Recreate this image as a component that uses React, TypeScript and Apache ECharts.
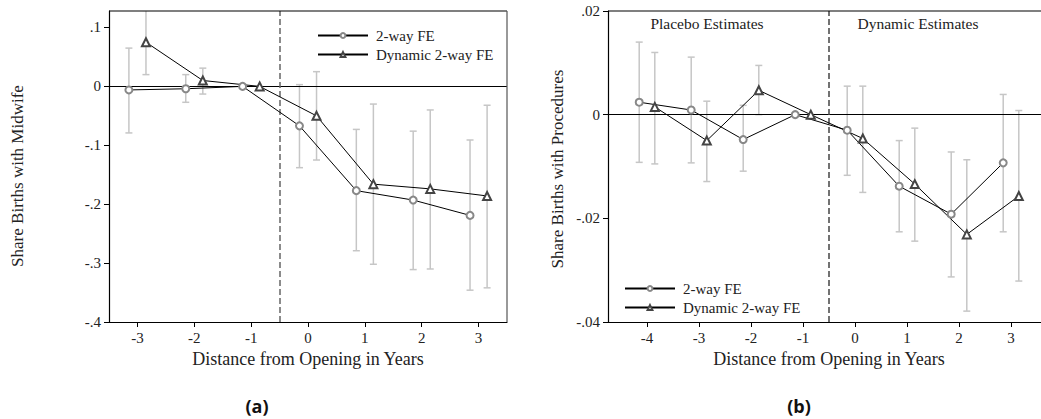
import React, { useEffect, useRef } from "react";
import * as echarts from "echarts";

// ---- Panel (a): Share Births with Midwife ----
const yearsA = [-3, -2, -1, 0, 1, 2, 3];
const feA = [-0.006, -0.004, 0, -0.067, -0.177, -0.193, -0.219];
const feALo = [-0.079, -0.027, null, -0.138, -0.279, -0.311, -0.346];
const feAHi = [0.065, 0.02, null, 0.003, -0.073, -0.076, -0.091];
const dynA = [0.075, 0.01, 0, -0.05, -0.166, -0.174, -0.186];
const dynALo = [0.02, -0.013, null, -0.125, -0.302, -0.31, -0.342];
const dynAHi = [0.129, 0.031, null, 0.025, -0.03, -0.04, -0.032];
const xTicksA = [-3, -2, -1, 0, 1, 2, 3];
const yTicksA = [-0.4, -0.3, -0.2, -0.1, 0, 0.1];

// ---- Panel (b): Share Births with Procedures ----
const yearsB = [-4, -3, -2, -1, 0, 1, 2, 3];
const feB = [0.0024, 0.0009, -0.0048, 0, -0.003, -0.0138, -0.0192, -0.0093];
const feBLo = [-0.0092, -0.0093, -0.0109, null, -0.0117, -0.0226, -0.0313, -0.0226];
const feBHi = [0.014, 0.0111, 0.0018, null, 0.0055, -0.005, -0.0072, 0.0039];
const dynB = [0.0015, -0.005, 0.0047, 0, -0.0046, -0.0134, -0.0231, -0.0157];
const dynBLo = [-0.0095, -0.0129, 0.0, null, -0.015, -0.0244, -0.0379, -0.0321];
const dynBHi = [0.012, 0.0026, 0.0095, null, 0.0055, -0.0026, -0.0087, 0.0008];
const xTicksB = [-4, -3, -2, -1, 0, 1, 2, 3];
const yTicksB = [-0.04, -0.02, 0, 0.02];

const SHIFT = 0.15; // horizontal dodge between the two estimators
const SERIF = "Liberation Serif";

// layout
const GA = { left: 109, top: 11, width: 398, height: 311 };
const GB = { left: 608, top: 11, width: 442, height: 311 };

const fmt = (v: number) => {
  const r = Math.round(v * 1000) / 1000;
  if (r === 0) return "0";
  const s = Math.abs(r).toString().replace(/^0/, "");
  return (r < 0 ? "-" : "") + s;
};

const pts = (years: number[], vals: number[], d: number) =>
  years.map((y, i) => [y + d, vals[i]]);
const bars = (years: number[], lo: (number | null)[], hi: (number | null)[], d: number) =>
  years
    .map((y, i) => (lo[i] == null || hi[i] == null ? null : [y + d, lo[i], hi[i]]))
    .filter((x) => x != null);

const renderBar = (params: any, api: any) => {
  const x = api.value(0);
  const top = api.coord([x, api.value(2)]);
  const bot = api.coord([x, api.value(1)]);
  const hw = 3.5;
  const style = { stroke: "#c6c6c6", lineWidth: 1.5 };
  return {
    type: "group",
    children: [
      { type: "line", shape: { x1: top[0], y1: top[1], x2: bot[0], y2: bot[1] }, style },
      { type: "line", shape: { x1: top[0] - hw, y1: top[1], x2: top[0] + hw, y2: top[1] }, style },
      { type: "line", shape: { x1: bot[0] - hw, y1: bot[1], x2: bot[0] + hw, y2: bot[1] }, style },
    ],
  };
};

export default function App() {
  const ref = useRef<HTMLDivElement>(null);
  useEffect(() => {
    if (!ref.current) return;
    const chart = echarts.init(ref.current, null, { renderer: "svg" });

    const labelStyle = (ticks: number[]) => ({
      customValues: ticks,
      formatter: (v: number) => fmt(v),
      fontFamily: SERIF,
      fontSize: 15,
      color: "#222",
      margin: 8,
    });
    const axisLine = { show: true, onZero: false, lineStyle: { color: "#000", width: 1.2 } };

    const xAxisBase = (i: number, min: number, max: number, ticks: number[]) => ({
      type: "value",
      gridIndex: i,
      min,
      max,
      name: "Distance from Opening in Years",
      nameLocation: "middle",
      nameGap: 24,
      nameTextStyle: { fontFamily: SERIF, fontSize: 18, color: "#222" },
      axisLine,
      axisTick: { show: true, customValues: ticks, length: 5, lineStyle: { color: "#000" } },
      axisLabel: labelStyle(ticks),
      splitLine: { show: false },
    });
    const yAxisBase = (i: number, min: number, max: number, ticks: number[]) => ({
      type: "value",
      gridIndex: i,
      min,
      max,
      axisLine,
      axisTick: { show: true, customValues: ticks, length: 5, lineStyle: { color: "#000" } },
      axisLabel: labelStyle(ticks),
      splitLine: { show: false },
    });

    const lineSeries = (
      name: string,
      axis: number,
      data: number[][],
      triangle: boolean,
      markLine?: any
    ) => ({
      type: "line",
      name,
      xAxisIndex: axis,
      yAxisIndex: axis,
      data,
      symbol: triangle ? "emptyTriangle" : "emptyCircle",
      symbolSize: triangle ? 8 : 7,
      lineStyle: { color: "#000", width: 1 },
      itemStyle: { color: triangle ? "#444" : "#888", borderWidth: 1 },
      z: 5,
      markLine,
    });

    const refLines = (dashColor: string) => ({
      silent: true,
      symbol: "none",
      label: { show: false },
      data: [
        { yAxis: 0, lineStyle: { color: "#000", width: 1, type: "solid" } },
        { xAxis: -0.5, lineStyle: { color: dashColor, width: 1.5, type: [6, 3] } },
      ],
    });

    const errSeries = (axis: number, data: any[]) => ({
      type: "custom",
      xAxisIndex: axis,
      yAxisIndex: axis,
      data,
      encode: { x: 0, y: [1, 2] },
      renderItem: renderBar,
      clip: true,
      silent: true,
      z: 1,
    });

    const legendBase = (left: number, top: number) => ({
      data: ["2-way FE", "Dynamic 2-way FE"],
      orient: "vertical",
      left,
      top,
      itemWidth: 50,
      itemHeight: 6,
      itemGap: 4,
      selectedMode: false,
      textStyle: { fontFamily: SERIF, fontSize: 15, color: "#222", padding: [0, 0, 0, 3] },
    });

    const frameLine = (x1: number, y1: number, x2: number, y2: number, color: string) => ({
      type: "line",
      silent: true,
      z: 100,
      shape: { x1, y1, x2, y2 },
      style: { stroke: color, lineWidth: 1.2 },
    });

    const text = (
      t: string,
      x: number,
      y: number,
      size: number,
      extra: any = {},
      rotation = 0
    ) => ({
      type: "text",
      x,
      y,
      rotation,
      style: {
        text: t,
        fontFamily: SERIF,
        fontSize: size,
        fill: "#222",
        align: "center",
        verticalAlign: "middle",
        ...extra,
      },
    });

    chart.setOption({
      animation: false,
      backgroundColor: "#fff",
      grid: [GA, GB],
      xAxis: [xAxisBase(0, -3.5, 3.5, xTicksA), xAxisBase(1, -4.75, 3.75, xTicksB)],
      yAxis: [yAxisBase(0, -0.4, 0.128, yTicksA), yAxisBase(1, -0.04, 0.02, yTicksB)],
      legend: [legendBase(312, 23), legendBase(619, 276)],
      graphic: [
        frameLine(GA.left, GA.top, GA.left + GA.width, GA.top, "#000"),
        frameLine(GA.left + GA.width, GA.top, GA.left + GA.width, GA.top + GA.height, "#555"),
        frameLine(GB.left, GB.top, GB.left + GB.width, GB.top, "#000"),
        text("Share Births with Midwife", 17, 176, 17, {}, Math.PI / 2),
        text("Share Births with Procedures", 557, 169, 17, {}, Math.PI / 2),
        text("Placebo Estimates", 707, 23, 15.5),
        text("Dynamic Estimates", 918, 23, 15.5),
        text("(a)", 257, 406, 18, { fontFamily: "Open Sans", fontWeight: "bold", fill: "#111" }),
        text("(b)", 799, 406, 18, { fontFamily: "Open Sans", fontWeight: "bold", fill: "#111" }),
      ],
      series: [
        errSeries(0, bars(yearsA, feALo, feAHi, -SHIFT)),
        errSeries(0, bars(yearsA, dynALo, dynAHi, SHIFT)),
        errSeries(1, bars(yearsB, feBLo, feBHi, -SHIFT)),
        errSeries(1, bars(yearsB, dynBLo, dynBHi, SHIFT)),
        lineSeries("2-way FE", 0, pts(yearsA, feA, -SHIFT), false, refLines("#666")),
        lineSeries("Dynamic 2-way FE", 0, pts(yearsA, dynA, SHIFT), true),
        lineSeries("2-way FE", 1, pts(yearsB, feB, -SHIFT), false, refLines("#444")),
        lineSeries("Dynamic 2-way FE", 1, pts(yearsB, dynB, SHIFT), true),
      ],
    });
    return () => chart.dispose();
  }, []);

  return (
    <div
      style={{
        position: "fixed",
        left: 0,
        top: 0,
        width: 1041,
        height: 419,
        overflow: "hidden",
        background: "#fff",
      }}
    >
      <div ref={ref} style={{ width: 1060, height: 419 }} />
    </div>
  );
}
